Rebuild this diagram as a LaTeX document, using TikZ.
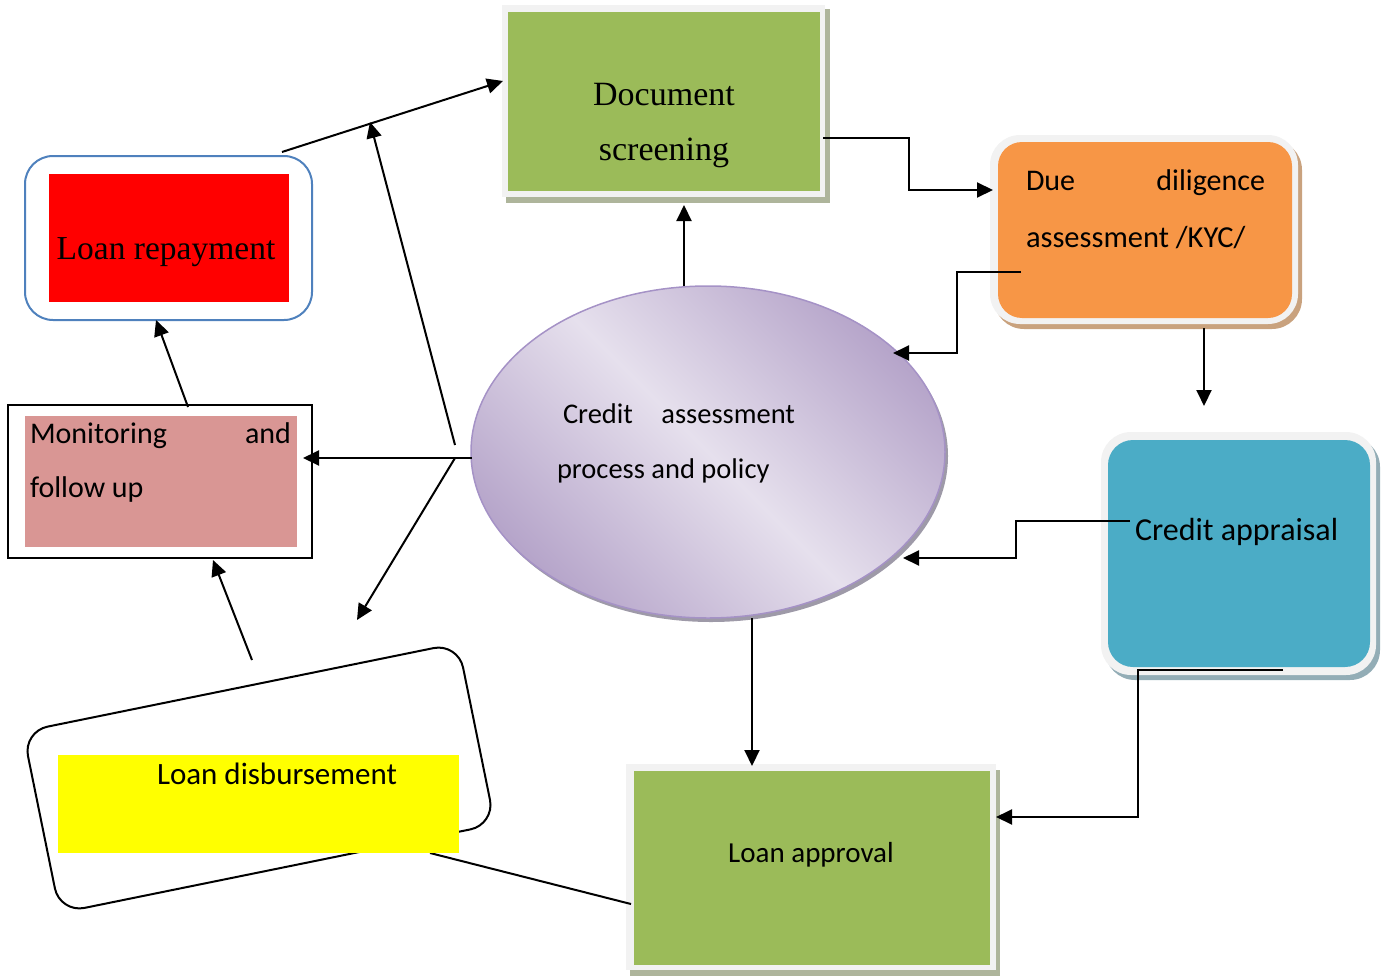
\documentclass[tikz,border=0pt]{standalone}
\usepackage{fontspec}
\setmainfont{Carlito}
\newfontfamily\camb{Liberation Serif}
\usetikzlibrary{arrows.meta,shapes.geometric}
\definecolor{gbox}{HTML}{9BBB59}
\definecolor{gshadow}{HTML}{AEB59B}
\definecolor{frame}{HTML}{F2F2F2}
\definecolor{obox}{HTML}{F79646}
\definecolor{oshadow}{HTML}{C9A27E}
\definecolor{tbox}{HTML}{4BACC6}
\definecolor{tshadow}{HTML}{93ADB6}
\definecolor{elldark}{HTML}{B6A5CA}
\definecolor{elllight}{HTML}{E6E0ED}
\definecolor{ellborder}{HTML}{A592C6}
\definecolor{ellshadow}{HTML}{9E9AA8}
\definecolor{pbox}{HTML}{D99694}
\definecolor{rbox}{HTML}{FF0000}
\definecolor{bline}{HTML}{4F81BD}
\definecolor{ybox}{HTML}{FFFF00}
\begin{document}
\begin{tikzpicture}[x=1pt,y=-1pt,
  conn/.style={line width=2pt,-{Triangle[length=16pt,width=15pt]}},
  plainline/.style={line width=2pt},
  boxnode/.style={rectangle,inner sep=0pt,outer sep=0pt,draw=none},
  txt/.style={inner sep=0pt,outer sep=0pt,anchor=base},
  cal/.style={font=\fontsize{#1}{#1}\selectfont},
  cam/.style={font=\camb\fontsize{#1}{#1}\selectfont}]
\useasboundingbox (0,0) rectangle (1388,979);

% ---- Document screening
\fill[gshadow] (506,9) rectangle (830,203);
\fill[frame] (502,5) rectangle (825,197);
\node[boxnode,fill=gbox,minimum width=312,minimum height=179] (ds) at (664,101.5) {};
\node[txt,cam=34] (dsT1) at (664,106) {Document};
\node[txt,cam=34] (dsT2) at (664,160) {screening};

% ---- Due diligence
\fill[oshadow,rounded corners=30] (994,140) rectangle (1302,329);
\fill[frame,rounded corners=30] (990,135) rectangle (1298,324);
\node[boxnode,fill=obox,rounded corners=24,minimum width=294,minimum height=176] (dd) at (1145,230) {};
\node[txt,cal=30,anchor=base west] (ddT1) at (1026,190) {Due};
\node[txt,cal=30,anchor=base east] (ddT2) at (1265,190) {diligence};
\node[txt,cal=30.5,anchor=base west] (ddT3) at (1026,247) {assessment /KYC/};

% ---- Credit appraisal
\fill[tshadow,rounded corners=30] (1105,437) rectangle (1380,680);
\fill[frame,rounded corners=30] (1101,432) rectangle (1376,675);
\node[boxnode,fill=tbox,rounded corners=25,minimum width=262,minimum height=227] (ca) at (1239,553.5) {};
\node[txt,cal=32,anchor=base west] (caT) at (1135,540) {Credit appraisal};

% ---- Loan approval
\fill[gshadow] (630,770) rectangle (1000,976);
\fill[frame] (626,764) rectangle (996,970);
\node[boxnode,fill=gbox,minimum width=356,minimum height=194] (la) at (812,868) {};
\node[txt,cal=29] (laT) at (811,862) {Loan approval};

% ---- Central ellipse
\fill[ellshadow] (711,456) ellipse [x radius=237, y radius=166];
\node[ellipse,draw=ellborder,line width=1.5pt,inner sep=0pt,minimum width=474,minimum height=332,
  left color=elldark,right color=elldark,middle color=elllight,shading angle=135] (ell) at (708,452) {};
\node[txt,cal=28.5,anchor=base west] (ellT1) at (563,423) {Credit};
\node[txt,cal=28.5,anchor=base east] (ellT2) at (795,423) {assessment};
\node[txt,cal=28.5,anchor=base west] (ellT3) at (557,478) {process and policy};

% ---- Monitoring and follow up
\fill[pbox] (25,416) rectangle (297,547);
\node[boxnode,draw=black,line width=2pt,minimum width=304,minimum height=153] (mon) at (160,481.5) {};
\node[txt,cal=30,anchor=base west] (monT1) at (30,443) {Monitoring};
\node[txt,cal=30,anchor=base east] (monT2) at (291,443) {and};
\node[txt,cal=30,anchor=base west] (monT3) at (30,497) {follow up};

% ---- Loan repayment
\node[boxnode,draw=bline,line width=2pt,rounded corners=28,minimum width=287,minimum height=164] (lr) at (168.5,238) {};
\fill[rbox] (49,174) rectangle (289,302);
\node[txt,cam=33.5] (lrT) at (166,259) {Loan repayment};

% ---- Loan disbursement
\node[boxnode,draw=black,fill=white,line width=2pt,rounded corners=25,rotate=11.5,minimum width=444,minimum height=185] (ld) at (259,778) {};

% ---- connector coordinates
\coordinate (dsE) at (823,138);
\coordinate (ddW) at (993,190);
\coordinate (ddL) at (1021,272);
\coordinate (ellA) at (893,353);
\coordinate (ddS) at (1204,328);
\coordinate (caN) at (1204,406);
\coordinate (caL) at (1130,521);
\coordinate (ellB) at (903,558);
\coordinate (caB) at (1283,670);
\coordinate (laE) at (996,817);
\coordinate (ellS) at (752,618);
\coordinate (laN) at (752,766);
\coordinate (ellN) at (684,286);
\coordinate (dsS) at (684,205);
\coordinate (laW) at (631,904);
\coordinate (ldE) at (430,853);
\coordinate (ellW) at (472,458);
\coordinate (monE) at (303,458);
\coordinate (forkA) at (455,445);
\coordinate (upTip) at (370,122);
\coordinate (forkB) at (455,458);
\coordinate (downTip) at (357,620);
\coordinate (lrN) at (282,152);
\coordinate (dsW) at (503,81);
\coordinate (monN) at (188,407);
\coordinate (lrS) at (156,320);
\coordinate (ldN) at (252,660);
\coordinate (monS) at (213,560);

\draw[plainline] (laW) -- (ldE);

% yellow band over the disbursement box
\fill[ybox] (58,755) rectangle (459,853);
\node[txt,cal=31,anchor=base west] (ldT) at (157,784) {Loan disbursement};

% ---- connectors
\draw[conn] (dsE) -- ++(86,0) |- (ddW);
\draw[conn] (ddL) -- ++(-64,0) |- (ellA);
\draw[conn] (ddS) -- (caN);
\draw[conn] (caL) -- ++(-114,0) |- (ellB);
\draw[conn] (caB) -- ++(-145,0) |- (laE);
\draw[conn] (ellS) -- (laN);
\draw[conn] (ellN) -- (dsS);
\draw[conn] (ellW) -- (monE);
\draw[conn] (forkA) -- (upTip);
\draw[conn] (forkB) -- (downTip);
\draw[conn] (lrN) -- (dsW);
\draw[conn] (monN) -- (lrS);
\draw[conn] (ldN) -- (monS);
\end{tikzpicture}
\end{document}
